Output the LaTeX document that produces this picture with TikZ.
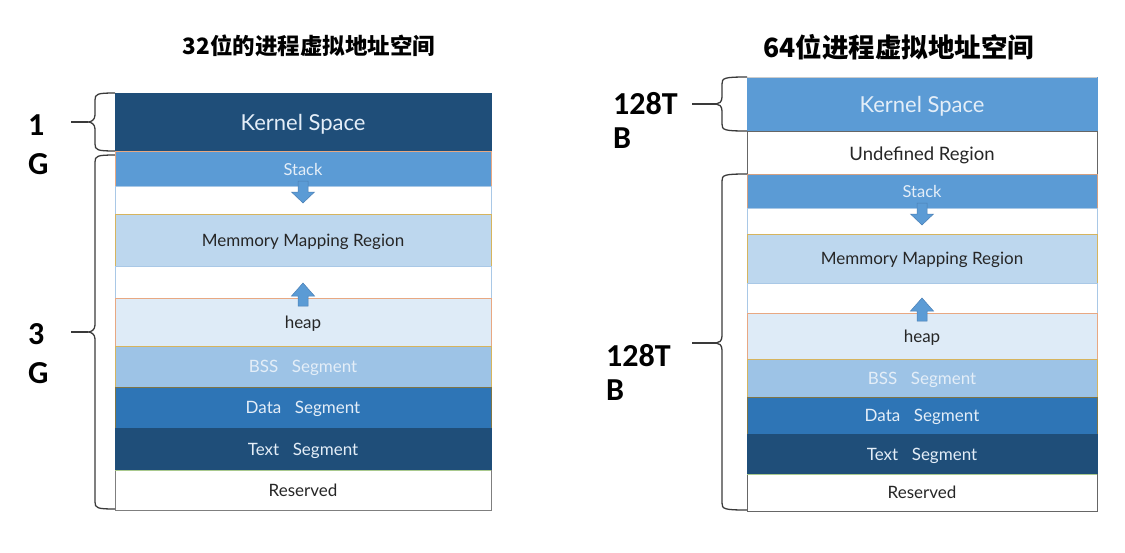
\documentclass[tikz,border=0pt]{standalone}
\usepackage{fontspec}
\newfontfamily\cjkfont{Noto Sans CJK SC}
\newfontfamily\boxfont{Lato}
\newfontfamily\sizefont{Carlito}
\usetikzlibrary{calc}

\definecolor{navy}{HTML}{1F4E79}
\definecolor{midblue}{HTML}{5B9BD5}
\definecolor{paleblue}{HTML}{BDD7EE}
\definecolor{heapblue}{HTML}{DEEBF7}
\definecolor{bssblue}{HTML}{9DC3E6}
\definecolor{datablue}{HTML}{2E75B6}
\definecolor{lighttext}{HTML}{E4EEF8}
\definecolor{darktext}{HTML}{262626}
\definecolor{goldline}{HTML}{D6B45E}
\definecolor{orangeline}{HTML}{E8A882}
\definecolor{oliveline}{HTML}{7F7545}
\definecolor{greenline}{HTML}{A9C98E}
\definecolor{greyline}{HTML}{7F7F7F}
\definecolor{gapline}{HTML}{A9C8E6}
\definecolor{arrowline}{HTML}{4A7FB5}
\definecolor{bracegrey}{HTML}{3A3A3A}

% draws a left curly brace: #1 box edge x, #2 top y, #3 bottom y, #4 tip y,
% #5 spine x, #6 tip x
\newcommand\membrace[6]{%
  \draw[bracepen] (#1,#2) .. controls (#5+2,#2) and (#5,#2+1) .. (#5,#2+7)
    -- (#5,#4-7) .. controls (#5,#4-2) and (#6+3,#4) .. (#6,#4)
    .. controls (#6+3,#4) and (#5,#4+2) .. (#5,#4+7)
    -- (#5,#3-7) .. controls (#5,#3-1) and (#5+2,#3) .. (#1,#3);}

% block arrow pointing down, hanging from the bottom of a segment
\newcommand\growdown[1]{%
  \filldraw[blockarrow] ($(#1.south)+(-5,-5)$) -- ($(#1.south)+(5,-5)$)
    -- ($(#1.south)+(5,6)$) -- ($(#1.south)+(11.5,6)$) -- ($(#1.south)+(0,17)$)
    -- ($(#1.south)+(-11.5,6)$) -- ($(#1.south)+(-5,6)$) -- cycle;}

% block arrow pointing up, standing on the top of a segment
\newcommand\growup[1]{%
  \filldraw[blockarrow] ($(#1.north)+(-5,8)$) -- ($(#1.north)+(5,8)$)
    -- ($(#1.north)+(5,-2)$) -- ($(#1.north)+(11.5,-2)$) -- ($(#1.north)+(0,-15)$)
    -- ($(#1.north)+(-11.5,-2)$) -- ($(#1.north)+(-5,-2)$) -- cycle;}

\begin{document}
\begin{tikzpicture}[x=1pt,y=-1pt,
  seg/.style={draw, line width=0.8pt, inner sep=0pt, outer sep=0pt,
    anchor=north west, align=center, text depth=0pt,
    font=\boxfont\fontsize{17}{19}\selectfont, text=darktext},
  lcol/.style={minimum width=376pt},
  rcol/.style={minimum width=350pt},
  bigtext/.style={font=\boxfont\fontsize{22}{24}\selectfont},
  stacktext/.style={font=\boxfont\fontsize{16.5}{18}\selectfont},
  bracepen/.style={draw=bracegrey, line width=1.3pt},
  blockarrow/.style={fill=midblue, draw=arrowline, line width=0.5pt},
  sizelabel/.style={align=left, inner sep=0pt, anchor=north west},
  leftsize/.style={sizelabel, font=\sizefont\bfseries\fontsize{32}{39}\selectfont},
  rightsize/.style={sizelabel, font=\sizefont\bfseries\fontsize{32}{34}\selectfont},
  title/.style={inner sep=0pt}]
\useasboundingbox (0,0) rectangle (1125,552);

% ---------- 32-bit address space ----------
\node[title, font=\cjkfont\bfseries\fontsize{22.5}{24}\selectfont] (t32) at (309,46) {32位的进程虚拟地址空间};

\node[seg, lcol, bigtext, minimum height=58pt, fill=navy, draw=navy, text=lighttext] (lk) at (115,93) {Kernel Space};
\node[seg, lcol, stacktext, minimum height=35pt, fill=midblue, draw=orangeline, text=lighttext] (ls) at (115,151) {\raisebox{-1.5pt}{Stack}};
\node[seg, lcol, minimum height=28pt, fill=white, draw=gapline] (lg1) at (115,186) {};
\node[seg, lcol, minimum height=52pt, fill=paleblue, draw=goldline] (lm) at (115,214) {Memmory Mapping Region};
\node[seg, lcol, minimum height=32pt, fill=white, draw=gapline] (lg2) at (115,266) {};
\node[seg, lcol, minimum height=48pt, fill=heapblue, draw=orangeline] (lh) at (115,298) {heap};
\node[seg, lcol, minimum height=41pt, fill=bssblue, draw=goldline, text=lighttext] (lb) at (115,346) {BSS\hspace{0.8em}Segment};
\node[seg, lcol, minimum height=41pt, fill=datablue, draw=oliveline, text=lighttext] (ld) at (115,387) {Data\hspace{0.8em}Segment};
\node[seg, lcol, minimum height=42pt, fill=navy, draw=navy, text=lighttext] (lt) at (115,428) {Text\hspace{0.8em}Segment};
\node[seg, lcol, minimum height=40pt, fill=white, draw=greyline] (lr) at (115,470) {Reserved};
\draw[greenline, line width=0.8pt] (lt.south west) -- (lt.south east);

\growdown{ls}
\growup{lh}

\membrace{115}{93}{151}{122}{95}{88}
\membrace{115}{155}{509}{332}{95}{88}
\node[leftsize] (l1g) at (28,115) {1\\G};
\node[leftsize] (l3g) at (28,323) {3\\G};
\coordinate (l1tip) at (88,122);
\coordinate (l3tip) at (88,332);
\draw[bracepen] (71,122) -- (l1tip);
\draw[bracepen] (71,332) -- (l3tip);

% ---------- 64-bit address space ----------
\node[title, font=\cjkfont\bfseries\fontsize{26.5}{28}\selectfont] (t64) at (899,47) {64位进程虚拟地址空间};

\node[seg, rcol, bigtext, minimum height=54pt, fill=midblue, draw=midblue, text=lighttext] (rk) at (747,77) {Kernel Space};
\draw[gray!40, line width=0.8pt] (rk.north west) -- (rk.north east);
\node[seg, rcol, minimum height=43pt, fill=white, draw=greyline!80!black,
  font=\boxfont\fontsize{18.5}{20}\selectfont] (ru) at (747,131) {\raisebox{-3pt}{Undefined Region}};
\node[seg, rcol, stacktext, minimum height=34pt, fill=midblue, draw=orangeline!80!gray, text=lighttext] (rs) at (747,174) {\raisebox{-1.5pt}{Stack}};
\node[seg, rcol, minimum height=26pt, fill=white, draw=gapline] (rg1) at (747,208) {};
\node[seg, rcol, minimum height=49pt, fill=paleblue, draw=goldline] (rm) at (747,234) {Memmory Mapping Region};
\node[seg, rcol, minimum height=30pt, fill=white, draw=gapline] (rg2) at (747,283) {};
\node[seg, rcol, minimum height=46pt, fill=heapblue, draw=orangeline] (rh) at (747,313) {heap};
\node[seg, rcol, minimum height=38pt, fill=bssblue, draw=goldline, text=lighttext] (rb) at (747,359) {BSS\hspace{0.8em}Segment};
\node[seg, rcol, minimum height=37pt, fill=datablue, draw=oliveline, text=lighttext] (rd) at (747,397) {Data\hspace{0.8em}Segment};
\node[seg, rcol, minimum height=40pt, fill=navy, draw=navy, text=lighttext] (rt) at (747,434) {Text\hspace{0.8em}Segment};
\node[seg, rcol, minimum height=37pt, fill=white, draw=greyline!80!black] (rr) at (747,474) {Reserved};
\draw[greenline, line width=0.8pt] (rt.south west) -- (rt.south east);

\growdown{rs}
\growup{rh}

\membrace{747}{77}{131}{104}{722}{716}
\membrace{747}{174}{510}{343}{722}{716}
\node[rightsize] (r128a) at (613,92) {128T\\B};
\node[rightsize] (r128b) at (606,344) {128T\\B};
\coordinate (rtipa) at (716,104);
\coordinate (rtipb) at (716,343);
\draw[bracepen] (692,104) -- (rtipa);
\draw[bracepen] (692,343) -- (rtipb);
\end{tikzpicture}
\end{document}
